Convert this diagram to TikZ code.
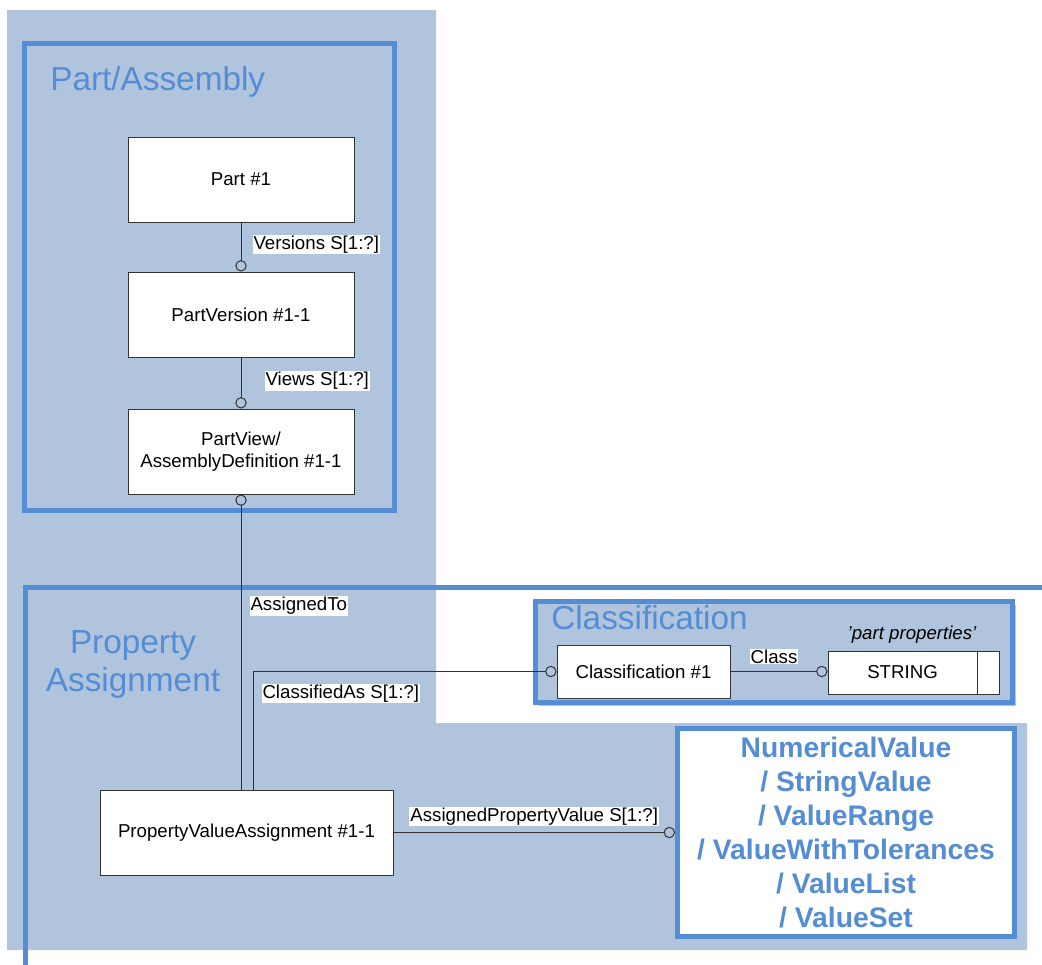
\documentclass[tikz,border=0pt]{standalone}
\usepackage{fontspec}
\setmainfont{Liberation Sans}
\usetikzlibrary{arrows.meta,calc}
\definecolor{bgblue}{RGB}{176,196,222}
\definecolor{frameblue}{RGB}{85,141,213}
\definecolor{linegray}{RGB}{50,50,50}
\tikzset{
  entity/.style={
    draw=linegray,
    line width=0.75pt,
    fill=white,
    minimum width=169.5pt,
    minimum height=63.75pt,
    align=center,
    inner sep=0pt,
    font=\fontsize{14}{16.5}\selectfont
  },
  link/.style={
    draw=linegray,
    line width=0.75pt
  },
  ring/.style={
    -{Circle[open,length=8.5pt,width=8.5pt]}
  },
  ringstart/.style={
    {Circle[open,length=8.5pt,width=8.5pt]}-
  },
  role/.style={
    fill=white,
    inner sep=0.75pt,
    font=\fontsize{14}{16}\selectfont
  },
  frame/.style={
    draw=frameblue,
    line width=3.75pt
  },
  title/.style={
    text=frameblue,
    inner sep=0pt,
    font=\fontsize{25}{30}\selectfont
  }
}

\begin{document}
\begin{tikzpicture}[x=0.75pt,y=-0.75pt]
  \useasboundingbox (0,0) rectangle (1042,964);
  % background panels
  \fill[bgblue] (7,10) -- (436,10) -- (436,723) -- (1027,723) -- (1027,950) -- (7,950) -- cycle;
  \draw[frame] (25,970) -- (25,587.5) -- (1048,587.5);
  \draw[frame] (24.5,43.5) rectangle (394.5,510.5);
  \node[title,anchor=base west] (patitle) at (50,90) {Part/Assembly};
  \node[title,anchor=base] (prtitle) at (133,653) {Property};
  \node[title,anchor=base] (astitle) at (133,691) {Assignment};
  % classification group
  \fill[bgblue] (538.5,604.5) rectangle (1016,706);
  \draw[frame,fill=bgblue] (535.5,601.5) rectangle (1012.5,702.5);
  \node[title,anchor=base west] (cltitle) at (551,629) {Classification};

  % entities
  \node[entity] (part) at (241,179.5) {Part \#1};
  \node[entity] (partversion) at (241,314.5) {PartVersion \#1-1};
  \node[entity] (partview) at (241,451.5) {PartView/\\AssemblyDefinition \#1-1};
  \node[entity,minimum width=219.75pt] (pva) at (246.5,832.5) {PropertyValueAssignment \#1-1};
  \node[entity,minimum width=129.75pt,minimum height=39.75pt] (classif) at (643.5,671.5) {Classification \#1};
  \node[entity,minimum width=128.25pt,minimum height=32.25pt] (string) at (913.5,672.5) {STRING\hspace{16.5pt}};
  \draw[link] ([xshift=-16.5pt]string.north east) -- ([xshift=-16.5pt]string.south east);
  \node[role,fill=none,anchor=base,font=\itshape\fontsize{14}{16}\selectfont] (strnote) at (912,639) {'part properties'};
  \node[frame,fill=white,minimum width=252.75pt,minimum height=156pt,inner sep=0pt,
        text=frameblue,align=center,font=\bfseries\fontsize{21.2}{25.5}\selectfont] (values) at (846,832.5)
        {NumericalValue\\/ StringValue\\/ ValueRange\\/ ValueWithTolerances\\/ ValueList\\/ ValueSet};

  % connectors
  \draw[link,ring] (part) -- (partversion)
    node[role,pos=0.45,anchor=west,xshift=8.25pt] (versions) {Versions S[1:?]};
  \draw[link,ring] (partversion) -- (partview)
    node[role,pos=0.46,anchor=west,xshift=17.25pt] (views) {Views S[1:?]};
  \draw[link,ringstart] (partview) -- (partview.south |- pva.north)
    node[role,pos=0.378,anchor=west,xshift=6pt] (assignedto) {AssignedTo};
  \draw[link,ring] ([xshift=4.875pt]pva.north) |- (classif.west)
    node[role,pos=0.5,anchor=north west,xshift=6pt,yshift=-9pt] (classifiedas) {ClassifiedAs S[1:?]};
  \draw[link,ring] (classif.east) -- (classif.east -| string.west)
    node[role,midway,above=5pt,xshift=-3.75pt] (class) {Class};
  \draw[link,ring] (pva.east) -- (pva.east -| values.west)
    node[role,midway,above=4.5pt] (apv) {AssignedPropertyValue S[1:?]};
\end{tikzpicture}
\end{document}
